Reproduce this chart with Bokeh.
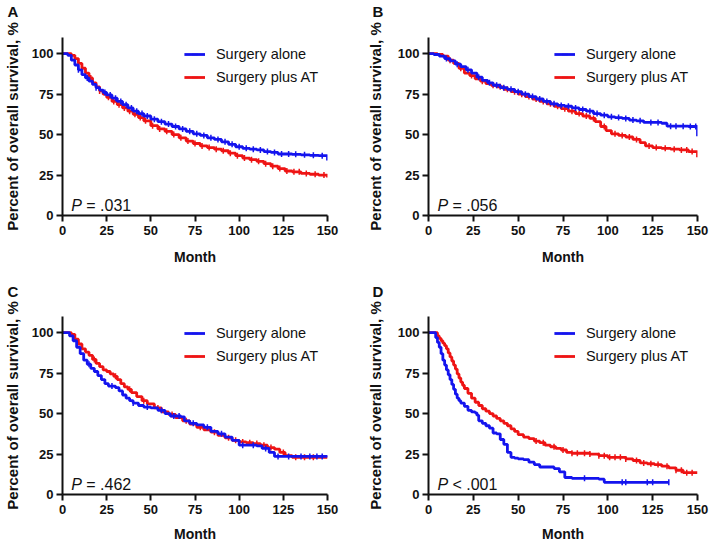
import numpy as np
from bokeh.plotting import figure
from bokeh.models import Range1d, Legend, LegendItem, FixedTicker
from bokeh.layouts import column, row
from bokeh.embed import file_html
from bokeh.resources import INLINE
from bokeh.core.properties import value

FONT = "Liberation Sans"
BLUE = "#1414ee"
RED = "#ee1414"

SERIES_NAMES = ["Surgery alone", "Surgery plus AT"]
PANEL_LETTERS = ["A", "B", "C", "D"]
P_OPS = ["=", "=", "=", "<"]
P_VALUES = [".031", ".056", ".462", ".001"]
X_TICKS = [0, 25, 50, 75, 100, 125, 150]
Y_TICKS = [0, 25, 50, 75, 100]

# ---- Panel A ----
A_ALONE_T = [0, 3, 5, 7, 9, 11, 13, 15, 17, 19, 21, 23, 25, 28, 31, 34, 37, 40, 43, 46, 50, 54, 58, 62, 66,
             70, 74, 78, 82, 86, 90, 94, 98, 102, 106, 110, 114, 118, 122, 126, 130, 135, 140, 145, 150]
A_ALONE_S = [100, 99, 96, 93, 90, 87, 85, 83, 81, 79, 77.5, 76, 74.5, 72.5, 70.5, 68.5, 66.5, 64.5, 63, 61.5,
             59.5, 58, 56.5, 55, 53.5, 52, 50.5, 49.5, 48, 47, 45.5, 44, 42.5, 41.5, 41, 40.5, 39.5, 39, 38, 38,
             37.8, 37.5, 37.2, 37, 34]
A_PLUS_T = [0, 5, 7, 9, 11, 13, 15, 17, 19, 21, 23, 25, 28, 31, 34, 37, 40, 43, 46, 50, 54, 58, 62, 66, 70,
            74, 78, 82, 86, 90, 94, 98, 102, 106, 110, 114, 118, 122, 126, 130, 135, 140, 145, 150]
A_PLUS_S = [100, 99, 97, 94, 91, 88, 85, 82, 79.5, 77, 75, 73, 70.5, 68.5, 66.5, 64.5, 62.5, 60.5, 58.5, 55.5,
            53.5, 52, 50, 48, 46, 44.5, 43, 42, 41, 40, 38.5, 37, 35.5, 34.5, 33.5, 32, 30.5, 29, 27.5, 27,
            26, 25.5, 25, 23.5]
A_ALONE_CENS = [9, 14, 19, 24, 27, 30, 33, 36, 39, 42, 45, 48, 52, 56, 60, 64, 68, 72, 76, 80, 84, 88, 92,
                96, 100, 104, 108, 112, 116, 120, 124, 128, 132, 137, 142, 147]
A_PLUS_CENS = [11, 16, 21, 26, 29, 32, 35, 38, 41, 44, 47, 51, 55, 59, 63, 67, 71, 75, 79, 83, 87, 91, 95,
               99, 103, 107, 111, 115, 119, 123, 127, 131, 134, 138, 143, 148]

# ---- Panel B ----
B_ALONE_T = [0, 3, 6, 9, 12, 15, 18, 21, 24, 27, 30, 33, 36, 40, 44, 48, 52, 56, 60, 64, 68, 72, 76, 80, 84,
             88, 92, 96, 100, 104, 108, 112, 116, 120, 125, 130, 133, 140, 145, 150]
B_ALONE_S = [100, 99.5, 98.5, 97, 95.5, 93.5, 92, 90, 88, 85.5, 83.5, 82, 80.5, 79, 78, 76.5, 75, 73.5, 72,
             70.5, 69, 68, 67.5, 66.5, 65.5, 64.5, 63, 62, 61, 60.5, 60, 59, 58.5, 57.5, 57.5, 57, 55.2, 55.2,
             55, 49]
B_PLUS_T = [0, 5, 8, 11, 14, 17, 20, 23, 26, 29, 32, 35, 38, 42, 46, 50, 54, 58, 62, 66, 70, 74, 78, 82, 86,
            90, 93, 96, 99, 102, 106, 110, 114, 118, 121, 125, 130, 135, 140, 145, 150]
B_PLUS_S = [100, 99.5, 98.5, 96, 94, 91, 88, 86.5, 84.5, 83, 81.5, 80.5, 79.5, 78, 76.5, 75, 73.5, 72, 70.5,
            69, 67.5, 66, 64.5, 63, 61.5, 60, 58, 55, 52.5, 50.5, 49.5, 48.5, 47, 45, 43, 42, 41.5, 41, 40.5,
            39.5, 36]
B_ALONE_CENS = [10, 16, 22, 28, 34, 38, 42, 46, 50, 54, 58, 62, 66, 70, 74, 78, 82, 86, 90, 94, 98, 102,
                106, 110, 114, 118, 124, 128, 135, 138, 142, 146, 149]
B_PLUS_CENS = [12, 18, 24, 30, 36, 40, 44, 48, 52, 56, 60, 64, 68, 72, 76, 80, 84, 88, 92, 98, 104, 108,
               112, 116, 123, 127, 132, 137, 141, 144, 147]

# ---- Panel C ----
C_ALONE_T = [0, 4, 6, 8, 10, 12, 14, 16, 18, 20, 22, 24, 26, 30, 32, 34, 36, 38, 40, 43, 46, 50, 54, 58, 61,
             64, 67, 69, 72, 76, 80, 84, 88, 92, 96, 100, 106, 110, 113, 117, 120, 125, 130, 140, 150]
C_ALONE_S = [100, 98, 95, 91, 87, 83, 80.5, 78, 76, 73.5, 71, 68.5, 67, 66, 64, 61.5, 59.5, 58, 56.5, 55,
             54, 53.5, 52, 50, 48.5, 48.5, 48, 45.5, 44, 43, 41.5, 39, 37.5, 35.5, 33.5, 30.5, 30.5, 30, 28.5,
             26, 23.5, 23.5, 23.5, 23.5, 23]
C_PLUS_T = [0, 5, 7, 9, 11, 13, 15, 17, 19, 21, 23, 25, 27, 29, 31, 33, 35, 37, 39, 42, 45, 48, 52, 56, 60,
            64, 68, 72, 76, 80, 84, 88, 92, 96, 100, 104, 108, 112, 116, 120, 123, 126, 130, 135, 140, 145, 150]
C_PLUS_S = [100, 99, 96, 93, 90, 88, 86, 83.5, 81, 79, 77, 76, 74.5, 73, 71, 68.5, 66.5, 65, 63, 60.5, 58,
            56, 53.5, 51, 49.5, 47.5, 45.5, 43.5, 41.5, 40, 38.5, 36.5, 35, 33.5, 32.5, 32, 31.5, 30.5, 29, 28,
            26, 24, 23, 23, 23, 23, 23]
C_ALONE_CENS = [15, 28, 40, 48, 56, 63, 66, 74, 82, 90, 102, 108, 115, 122, 128, 135, 140, 144, 147]
C_PLUS_CENS = [18, 30, 38, 46, 54, 62, 70, 78, 86, 94, 98, 102, 106, 110, 114, 118, 125, 132, 137, 142]

# ---- Panel D ----
D_ALONE_T = [0, 4, 5, 6, 7, 8, 9, 10, 11, 12, 13, 14, 15, 16, 17, 18, 20, 22, 24, 26, 27, 28, 30, 32, 34,
             36, 38, 40, 42, 44, 46, 48, 50, 53, 56, 59, 62, 66, 70, 73, 76, 80, 85, 90, 95, 98, 105, 115,
             125, 134]
D_ALONE_S = [100, 97, 94, 91, 87, 83, 80, 77, 74, 71, 68, 65, 62, 59.5, 58, 56.5, 54.5, 52, 51, 50.5, 49,
             45.5, 44, 42.5, 41, 38, 37.5, 34, 31, 26, 23, 22.5, 22, 21.5, 20, 18.5, 17, 17, 16, 14, 10.5, 10,
             10, 10, 9.5, 7.5, 7.5, 7.5, 7.5, 7.5]
D_PLUS_T = [0, 5, 6, 7, 8, 9, 10, 11, 12, 13, 14, 15, 16, 17, 18, 19, 20, 22, 24, 26, 28, 30, 32, 34, 36,
            38, 40, 42, 44, 46, 48, 50, 53, 56, 59, 62, 65, 68, 71, 74, 77, 80, 85, 90, 95, 100, 105, 110,
            114, 118, 122, 126, 130, 134, 138, 142, 150]
D_PLUS_S = [100, 98, 96.5, 95, 93.5, 92, 90, 87.5, 85, 82.5, 80, 77.5, 74.5, 72, 69.5, 67.5, 65.5, 62.5,
            59.5, 57, 55, 53, 51.5, 50, 48.5, 47, 45.5, 44, 42.5, 40.5, 39, 37, 35.5, 34.5, 33, 32, 30.5, 29.5,
            28.5, 27.5, 26, 25.5, 25.5, 25, 24, 23, 23, 22, 21, 19.5, 19, 18.5, 17.5, 16.5, 15, 13.5, 13.5]
D_ALONE_CENS = [87, 108, 110, 122, 125, 134]
D_PLUS_CENS = [60, 64, 70, 75, 80, 83, 87, 90, 95, 98, 101, 104, 107, 110, 116, 120, 124, 128, 133, 138,
               141, 144, 147]


def censor_y(times, surv, cens):
    t = np.asarray(times, dtype=float)
    s = np.asarray(surv, dtype=float)
    idx = np.searchsorted(t, np.asarray(cens, dtype=float), side="right") - 1
    return s[idx].tolist()


def make_panel(i, alone, plus, width, height, mb, ylab_standoff, xlab_standoff, letter_dx, letter_lh):
    p = figure(width=width, height=height, output_backend="svg", toolbar_location=None,
               x_range=Range1d(0, 150), y_range=Range1d(0, 110),
               min_border_left=mb[0], min_border_right=mb[1],
               min_border_top=mb[2], min_border_bottom=mb[3])
    p.xgrid.visible = False
    p.ygrid.visible = False
    p.outline_line_color = None
    p.xaxis.ticker = FixedTicker(ticks=X_TICKS)
    p.yaxis.ticker = FixedTicker(ticks=Y_TICKS)
    for ax in (p.xaxis[0], p.yaxis[0]):
        ax.axis_line_width = 2
        ax.axis_line_color = "#111111"
        ax.major_tick_line_width = 2
        ax.major_tick_line_color = "#111111"
        ax.major_tick_out = 6
        ax.major_tick_in = 0
        ax.minor_tick_line_color = None
        ax.major_label_text_font = FONT
        ax.major_label_text_font_style = "bold"
        ax.major_label_text_font_size = "13px"
        ax.major_label_text_color = "#111111"
        ax.axis_label_text_font = FONT
        ax.axis_label_text_font_style = "bold"
        ax.axis_label_text_color = "#111111"
    p.xaxis.axis_label = "Month"
    p.xaxis.axis_label_text_font_size = "14px"
    p.xaxis.major_label_standoff = 4
    p.xaxis.axis_label_standoff = xlab_standoff
    p.yaxis.axis_label = "Percent of overall survival, %"
    p.yaxis.axis_label_text_font_size = "15px"
    p.yaxis.major_label_standoff = 3
    p.yaxis.axis_label_standoff = ylab_standoff

    # panel letter (an empty second line lifts it above the axis label)
    p.title.text = PANEL_LETTERS[i] + "\n "
    p.title.align = "left"
    p.title.offset = letter_dx
    p.title.standoff = 0
    p.title.text_line_height = letter_lh
    p.title.text_font = FONT
    p.title.text_font_style = "bold"
    p.title.text_font_size = "15px"
    p.title.text_color = "#111111"

    renderers = {}
    for key, (t, s, c), color in (("plus", plus, RED), ("alone", alone, BLUE)):
        r_line = p.step(t, s, mode="after", line_color=color, line_width=2.8)
        r_c = p.scatter(c, censor_y(t, s, c), marker="dash", angle=np.pi / 2, size=6,
                        line_color=color, line_width=1.5)
        renderers[key] = [r_line, r_c]

    legend = Legend(items=[LegendItem(label=SERIES_NAMES[0], renderers=renderers["alone"]),
                           LegendItem(label=SERIES_NAMES[1], renderers=renderers["plus"])],
                    location="top_right", border_line_color=None, background_fill_alpha=0,
                    label_text_font=FONT, label_text_font_size="14.5px", label_text_color="#111111",
                    glyph_width=21, glyph_height=14, label_height=14, label_standoff=11,
                    spacing=7, padding=7, margin=9)
    p.add_layout(legend)

    p.text(x=[5], y=[6], text=["P"], text_font=value(FONT), text_font_style="italic",
           text_font_size="16px", text_baseline="alphabetic", text_color="#111111")
    p.text(x=[5], y=[6], text=["%s %s" % (P_OPS[i], P_VALUES[i])], x_offset=15,
           text_font=value(FONT), text_font_size="16px", text_baseline="alphabetic",
           text_color="#111111")
    return p


pa = make_panel(0, (A_ALONE_T, A_ALONE_S, A_ALONE_CENS), (A_PLUS_T, A_PLUS_S, A_PLUS_CENS),
                350, 270, (58, 23, 36, 55), 8, 11, -55, 1.05)
pb = make_panel(1, (B_ALONE_T, B_ALONE_S, B_ALONE_CENS), (B_PLUS_T, B_PLUS_S, B_PLUS_CENS),
                359, 270, (78, 12, 36, 55), 11, 11, -56, 1.05)
pc = make_panel(2, (C_ALONE_T, C_ALONE_S, C_ALONE_CENS), (C_PLUS_T, C_PLUS_S, C_PLUS_CENS),
                350, 274, (58, 23, 46, 50), 8, 9, -55, 1.0)
pd = make_panel(3, (D_ALONE_T, D_ALONE_S, D_ALONE_CENS), (D_PLUS_T, D_PLUS_S, D_PLUS_CENS),
                359, 274, (78, 12, 46, 50), 11, 9, -56, 1.0)

layout = column(row(pa, pb), row(pc, pd))
open("out.html", "w").write(file_html(layout, INLINE))
